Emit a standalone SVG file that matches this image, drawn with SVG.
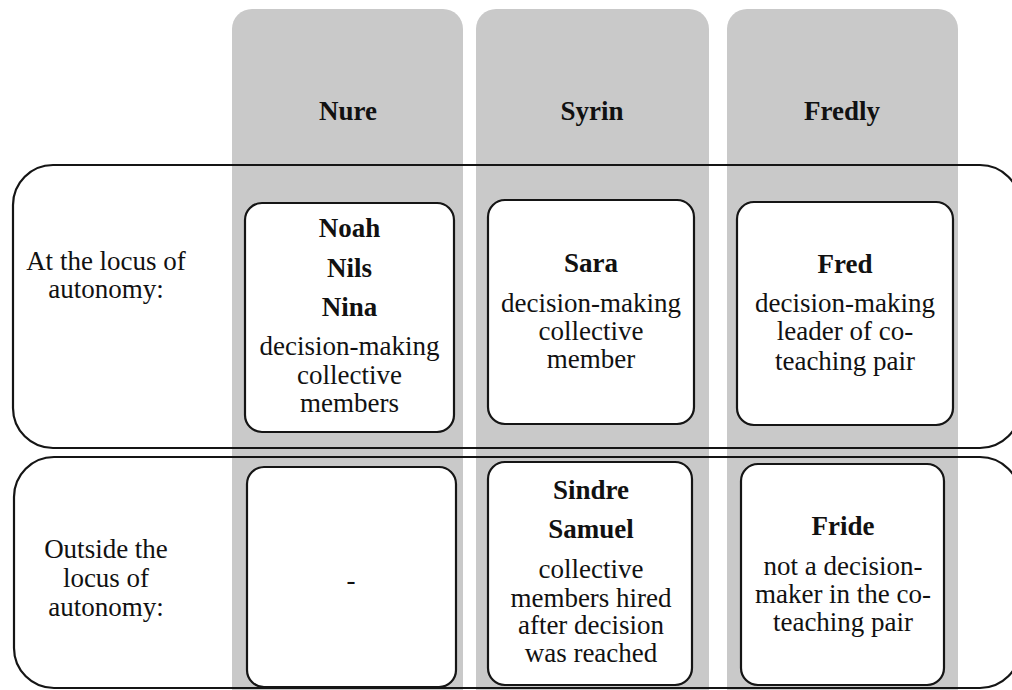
<svg xmlns="http://www.w3.org/2000/svg" width="1012" height="690" viewBox="0 0 1012 690">
<style>
.col{fill:#c9c9c9;}
.row{fill:none;stroke:#151515;stroke-width:2.2;}
.box{fill:#ffffff;stroke:#151515;stroke-width:2.2;}
text{font-family:'Liberation Serif','Times New Roman',serif;font-size:27px;fill:#111;text-anchor:middle;}
.b{font-weight:bold;}
</style>
<rect width="1012" height="690" fill="#ffffff"/>
<g id="columns">
<g id="col-nure"><rect class="col" x="232" y="9" width="231" height="700" rx="20"/><text class="b" x="348" y="120">Nure</text></g>
<g id="col-syrin"><rect class="col" x="476" y="9" width="233" height="700" rx="20"/><text class="b" x="592" y="120">Syrin</text></g>
<g id="col-fredly"><rect class="col" x="727" y="9" width="231" height="700" rx="20"/><text class="b" x="842" y="120">Fredly</text></g>
</g>
<g id="row-at">
<rect class="row" x="13" y="165" width="1007" height="283" rx="40"/>
<text x="106" y="270">At the locus of</text>
<text x="106" y="298">autonomy:</text>
</g>
<g id="row-outside">
<rect class="row" x="14" y="457" width="1006" height="231" rx="40"/>
<text x="106" y="558">Outside the</text>
<text x="106" y="587">locus of</text>
<text x="106" y="616">autonomy:</text>
</g>
<g id="box-nure-at">
<rect class="box" x="245" y="203" width="209" height="229" rx="17"/>
<text class="b" x="349.5" y="237">Noah</text>
<text class="b" x="349.5" y="277">Nils</text>
<text class="b" x="349.5" y="316">Nina</text>
<text x="349.5" y="355">decision-making</text>
<text x="349.5" y="383.5">collective</text>
<text x="349.5" y="412">members</text>
</g>
<g id="box-syrin-at">
<rect class="box" x="488" y="200" width="206" height="224" rx="17"/>
<text class="b" x="591" y="272">Sara</text>
<text x="591" y="312">decision-making</text>
<text x="591" y="340">collective</text>
<text x="591" y="368">member</text>
</g>
<g id="box-fredly-at">
<rect class="box" x="737" y="202" width="216" height="223" rx="17"/>
<text class="b" x="845" y="273">Fred</text>
<text x="845" y="312">decision-making</text>
<text x="845" y="340">leader of co-</text>
<text x="845" y="370">teaching pair</text>
</g>
<g id="box-nure-out">
<rect class="box" x="247" y="467" width="209" height="220" rx="17"/>
<text x="351" y="589">-</text>
</g>
<g id="box-syrin-out">
<rect class="box" x="488" y="462" width="204" height="223" rx="17"/>
<text class="b" x="591" y="499">Sindre</text>
<text class="b" x="591" y="538">Samuel</text>
<text x="591" y="578">collective</text>
<text x="591" y="607">members hired</text>
<text x="591" y="634">after decision</text>
<text x="591" y="662">was reached</text>
</g>
<g id="box-fredly-out">
<rect class="box" x="741" y="464" width="203" height="221" rx="17"/>
<text class="b" x="843" y="535">Fride</text>
<text x="843" y="575">not a decision-</text>
<text x="843" y="603">maker in the co-</text>
<text x="843" y="631">teaching pair</text>
</g>
<g id="connectors"></g>
</svg>
